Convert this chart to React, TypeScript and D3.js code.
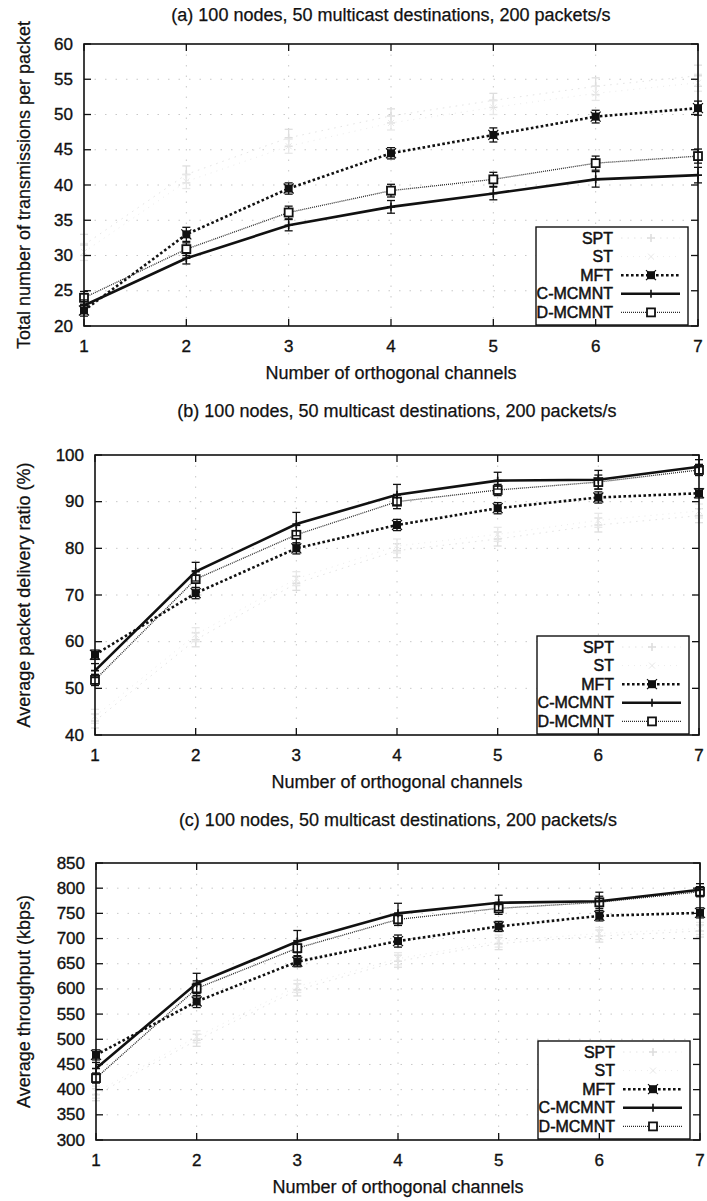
import React from "react";
import * as d3 from "d3";

// Number of orthogonal channels (x axis, shared by all three panels)
const channels = [1, 2, 3, 4, 5, 6, 7];
const seriesNames = ["SPT", "ST", "MFT", "C-MCMNT", "D-MCMNT"];

// (a) Total number of transmissions per packet
const txSPT = [31.5, 41.5, 46.7, 49.8, 52.0, 54.0, 55.5];
const txST = [30.5, 40.5, 45.5, 48.8, 51.0, 53.0, 54.5];
const txMFT = [22.2, 33.0, 39.5, 44.5, 47.1, 49.7, 50.9];
const txCM = [22.9, 29.6, 34.3, 36.9, 38.8, 40.8, 41.4];
const txDM = [24.0, 30.9, 36.1, 39.2, 40.8, 43.1, 44.1];
const txErrSPT = [1.5, 1.2, 1.2, 1.0, 1.0, 1.2, 1.5];
const txErrST = [1.2, 1.0, 1.0, 1.0, 1.0, 1.0, 1.2];
const txErrMFT = [0.8, 1.0, 0.8, 0.8, 1.0, 0.9, 1.0];
const txErrCM = [0.8, 0.8, 0.8, 0.9, 0.9, 1.1, 1.1];
const txErrDM = [0.9, 0.9, 0.9, 0.9, 1.0, 1.0, 1.0];
const txTicks = [20, 25, 30, 35, 40, 45, 50, 55, 60];

// (b) Average packet delivery ratio (%)
const pdrSPT = [43.0, 60.4, 72.5, 79.5, 82.0, 85.0, 87.0];
const pdrST = [44.0, 61.5, 73.5, 80.5, 83.0, 86.0, 88.0];
const pdrMFT = [57.2, 70.4, 80.0, 85.0, 88.6, 90.9, 91.8];
const pdrCM = [53.8, 75.0, 85.2, 91.5, 94.5, 94.7, 97.5];
const pdrDM = [51.8, 73.4, 82.9, 90.0, 92.5, 94.2, 96.8];
const pdrErrSPT = [1.5, 1.5, 1.5, 1.5, 1.5, 1.5, 1.5];
const pdrErrST = [1.5, 1.5, 1.5, 1.5, 1.5, 1.5, 1.5];
const pdrErrMFT = [1.0, 1.2, 1.2, 1.2, 1.2, 1.2, 1.0];
const pdrErrCM = [1.5, 2.0, 2.5, 2.2, 1.8, 2.0, 1.5];
const pdrErrDM = [1.2, 1.8, 2.0, 1.5, 1.2, 1.5, 1.2];
const pdrTicks = [40, 50, 60, 70, 80, 90, 100];

// (c) Average throughput (kbps)
const thrSPT = [390, 498, 598, 655, 690, 705, 715];
const thrST = [395, 505, 605, 660, 695, 710, 720];
const thrMFT = [469, 575, 654, 695, 724, 745, 751];
const thrCM = [442, 611, 694, 750, 771, 774, 797];
const thrDM = [423, 601, 681, 738, 760, 772, 793];
const thrErrSPT = [12, 12, 12, 12, 12, 12, 12];
const thrErrST = [12, 12, 12, 12, 12, 12, 12];
const thrErrMFT = [10, 12, 10, 12, 10, 10, 10];
const thrErrCM = [12, 20, 22, 20, 15, 18, 12];
const thrErrDM = [10, 15, 15, 12, 12, 12, 10];
const thrTicks = [300, 350, 400, 450, 500, 550, 600, 650, 700, 750, 800, 850];

const titleText = "100 nodes, 50 multicast destinations, 200 packets/s";
const xLabel = "Number of orthogonal channels";

type Style = {
  stroke: string;
  width: number;
  dash: string | null;
  marker: "plus" | "cross" | "filledSquare" | "openSquare";
  markerColor: string;
};

const styles: Record<string, Style> = {
  SPT: { stroke: "#e4e4e4", width: 1, dash: "1.5,5", marker: "plus", markerColor: "#dedede" },
  ST: { stroke: "#ececec", width: 1, dash: "1,5", marker: "cross", markerColor: "#e8e8e8" },
  MFT: { stroke: "#111", width: 2.6, dash: "2.6,2.4", marker: "filledSquare", markerColor: "#111" },
  "C-MCMNT": { stroke: "#111", width: 2.6, dash: null, marker: "plus", markerColor: "#111" },
  "D-MCMNT": { stroke: "#2a2a2a", width: 1.3, dash: "1,1", marker: "openSquare", markerColor: "#111" },
};

const panels = [
  {
    tag: "(a)",
    yLabel: "Total number of transmissions per packet",
    yDomain: [20, 60],
    yTicks: txTicks,
    values: [txSPT, txST, txMFT, txCM, txDM],
    errors: [txErrSPT, txErrST, txErrMFT, txErrCM, txErrDM],
    box: { left: 84, right: 698, top: 44, bottom: 326 },
    titleY: 21,
  },
  {
    tag: "(b)",
    yLabel: "Average packet delivery ratio (%)",
    yDomain: [40, 100],
    yTicks: pdrTicks,
    values: [pdrSPT, pdrST, pdrMFT, pdrCM, pdrDM],
    errors: [pdrErrSPT, pdrErrST, pdrErrMFT, pdrErrCM, pdrErrDM],
    box: { left: 95, right: 699, top: 455, bottom: 735 },
    titleY: 417,
  },
  {
    tag: "(c)",
    yLabel: "Average throughput (kbps)",
    yDomain: [300, 850],
    yTicks: thrTicks,
    values: [thrSPT, thrST, thrMFT, thrCM, thrDM],
    errors: [thrErrSPT, thrErrST, thrErrMFT, thrErrCM, thrErrDM],
    box: { left: 96, right: 700, top: 863, bottom: 1140 },
    titleY: 826,
  },
];

const FONT = "'Liberation Sans', Arial, Helvetica, sans-serif";
// slightly heavier strokes on glyphs for the printed look
const textInk = { fill: "#111", stroke: "#111", strokeWidth: 0.35 };

function Marker({ kind, cx, cy, color }: { kind: Style["marker"]; cx: number; cy: number; color: string }) {
  const s = 4;
  if (kind === "filledSquare") {
    return (
      <g>
        <rect x={cx - s} y={cy - s} width={2 * s} height={2 * s} fill={color} />
        <path d={`M${cx - s - 1},${cy - s - 1}L${cx + s + 1},${cy + s + 1}M${cx - s - 1},${cy + s + 1}L${cx + s + 1},${cy - s - 1}`} stroke={color} strokeWidth={1.2} />
      </g>
    );
  }
  if (kind === "openSquare") {
    return <rect x={cx - s} y={cy - s} width={2 * s} height={2 * s} fill="white" stroke={color} strokeWidth={1.8} />;
  }
  if (kind === "cross") {
    return <path d={`M${cx - 3},${cy - 3}L${cx + 3},${cy + 3}M${cx - 3},${cy + 3}L${cx + 3},${cy - 3}`} stroke={color} strokeWidth={1} />;
  }
  return <path d={`M${cx - 4},${cy}L${cx + 4},${cy}M${cx},${cy - 4}L${cx},${cy + 4}`} stroke={color} strokeWidth={1.6} />;
}

function Panel({ p }: { p: (typeof panels)[number] }) {
  const { left, right, top, bottom } = p.box;
  const x = d3.scaleLinear().domain([1, 7]).range([left, right]);
  const y = d3.scaleLinear().domain(p.yDomain).range([bottom, top]);
  const line = d3
    .line<number>()
    .x((_, i) => x(channels[i]))
    .y((d) => y(d));

  const order = [0, 1, 4, 3, 2];
  const legendRight = right - 10;
  const legendLeft = right - 162;
  const legendTop = bottom - 99;
  const rowY = (i: number) => bottom - 88 + i * 18.6;
  const textX = right - 85;
  const sampleX0 = right - 77;
  const sampleX1 = right - 18;
  const sampleMid = right - 47;

  return (
    <g>
      <text x={(left + right) / 2} y={p.titleY} textAnchor="middle" fontSize={18} {...textInk} strokeWidth={0.25}>
        {`${p.tag} ${titleText}`}
      </text>

      {/* faint dotted grid */}
      <g stroke="#c8c8c8" strokeWidth={1} strokeDasharray="1.5,9">
        {p.yTicks.slice(1, -1).map((t) => (
          <line key={"gy" + t} x1={left} x2={right} y1={y(t)} y2={y(t)} />
        ))}
        {channels.slice(1, -1).map((c) => (
          <line key={"gx" + c} x1={x(c)} x2={x(c)} y1={top} y2={bottom} />
        ))}
      </g>

      {/* series */}
      {order.map((si) => {
        const name = seriesNames[si];
        const st = styles[name];
        const vals = p.values[si];
        const errs = p.errors[si];
        return (
          <g key={name}>
            <path d={line(vals) ?? ""} fill="none" stroke={st.stroke} strokeWidth={st.width} strokeDasharray={st.dash ?? undefined} />
            {vals.map((v, i) => {
              const cx = x(channels[i]);
              const y0 = y(v - errs[i]);
              const y1 = y(v + errs[i]);
              return (
                <g key={i}>
                  <line x1={cx} x2={cx} y1={y0} y2={y1} stroke={st.markerColor} strokeWidth={1.3} />
                  <line x1={cx - 4} x2={cx + 4} y1={y0} y2={y0} stroke={st.markerColor} strokeWidth={1.3} />
                  <line x1={cx - 4} x2={cx + 4} y1={y1} y2={y1} stroke={st.markerColor} strokeWidth={1.3} />
                  <Marker kind={st.marker} cx={cx} cy={y(v)} color={st.markerColor} />
                </g>
              );
            })}
          </g>
        );
      })}

      {/* legend */}
      <rect x={legendLeft} y={legendTop} width={legendRight - legendLeft} height={bottom - legendTop - 1} fill="white" stroke="#111" strokeWidth={1.4} />
      {seriesNames.map((name, i) => {
        const st = styles[name];
        const ly = rowY(i);
        return (
          <g key={"lg" + name}>
            <text x={textX} y={ly} textAnchor="end" dominantBaseline="central" fontSize={16} {...textInk} strokeWidth={0.5}>
              {name}
            </text>
            <line x1={sampleX0} x2={sampleX1} y1={ly} y2={ly} stroke={st.stroke} strokeWidth={st.width} strokeDasharray={st.dash ?? undefined} />
            <Marker kind={st.marker} cx={sampleMid} cy={ly} color={st.markerColor} />
          </g>
        );
      })}

      {/* frame and ticks */}
      <rect x={left} y={top} width={right - left} height={bottom - top} fill="none" stroke="#111" strokeWidth={1.6} />
      {p.yTicks.map((t) => (
        <g key={"yt" + t}>
          <line x1={left} x2={left + 7} y1={y(t)} y2={y(t)} stroke="#111" strokeWidth={1.3} />
          <line x1={right - 7} x2={right} y1={y(t)} y2={y(t)} stroke="#111" strokeWidth={1.3} />
          <text x={left - 11} y={y(t)} textAnchor="end" dominantBaseline="central" fontSize={17} {...textInk}>
            {t}
          </text>
        </g>
      ))}
      {channels.map((c) => (
        <g key={"xt" + c}>
          <line x1={x(c)} x2={x(c)} y1={bottom} y2={bottom - 7} stroke="#111" strokeWidth={1.3} />
          <line x1={x(c)} x2={x(c)} y1={top} y2={top + 7} stroke="#111" strokeWidth={1.3} />
          <text x={x(c)} y={bottom + 26} textAnchor="middle" fontSize={17} {...textInk}>
            {c}
          </text>
        </g>
      ))}
      <text x={(left + right) / 2} y={bottom + 53} textAnchor="middle" fontSize={18} {...textInk} strokeWidth={0.25}>
        {xLabel}
      </text>
      <text
        transform={`translate(24,${(top + bottom) / 2}) rotate(-90)`}
        textAnchor="middle"
        dominantBaseline="central"
        fontSize={18}
        {...textInk}
        strokeWidth={0.25}
      >
        {p.yLabel}
      </text>
    </g>
  );
}

export default function App() {
  return (
    <div style={{ position: "absolute", left: 0, top: 0 }}>
      <svg width={707} height={1201} viewBox="0 0 707 1201" style={{ display: "block", background: "white", fontFamily: FONT }}>
        <rect width={707} height={1201} fill="white" />
        {panels.map((p) => (
          <Panel key={p.tag} p={p} />
        ))}
      </svg>
    </div>
  );
}
